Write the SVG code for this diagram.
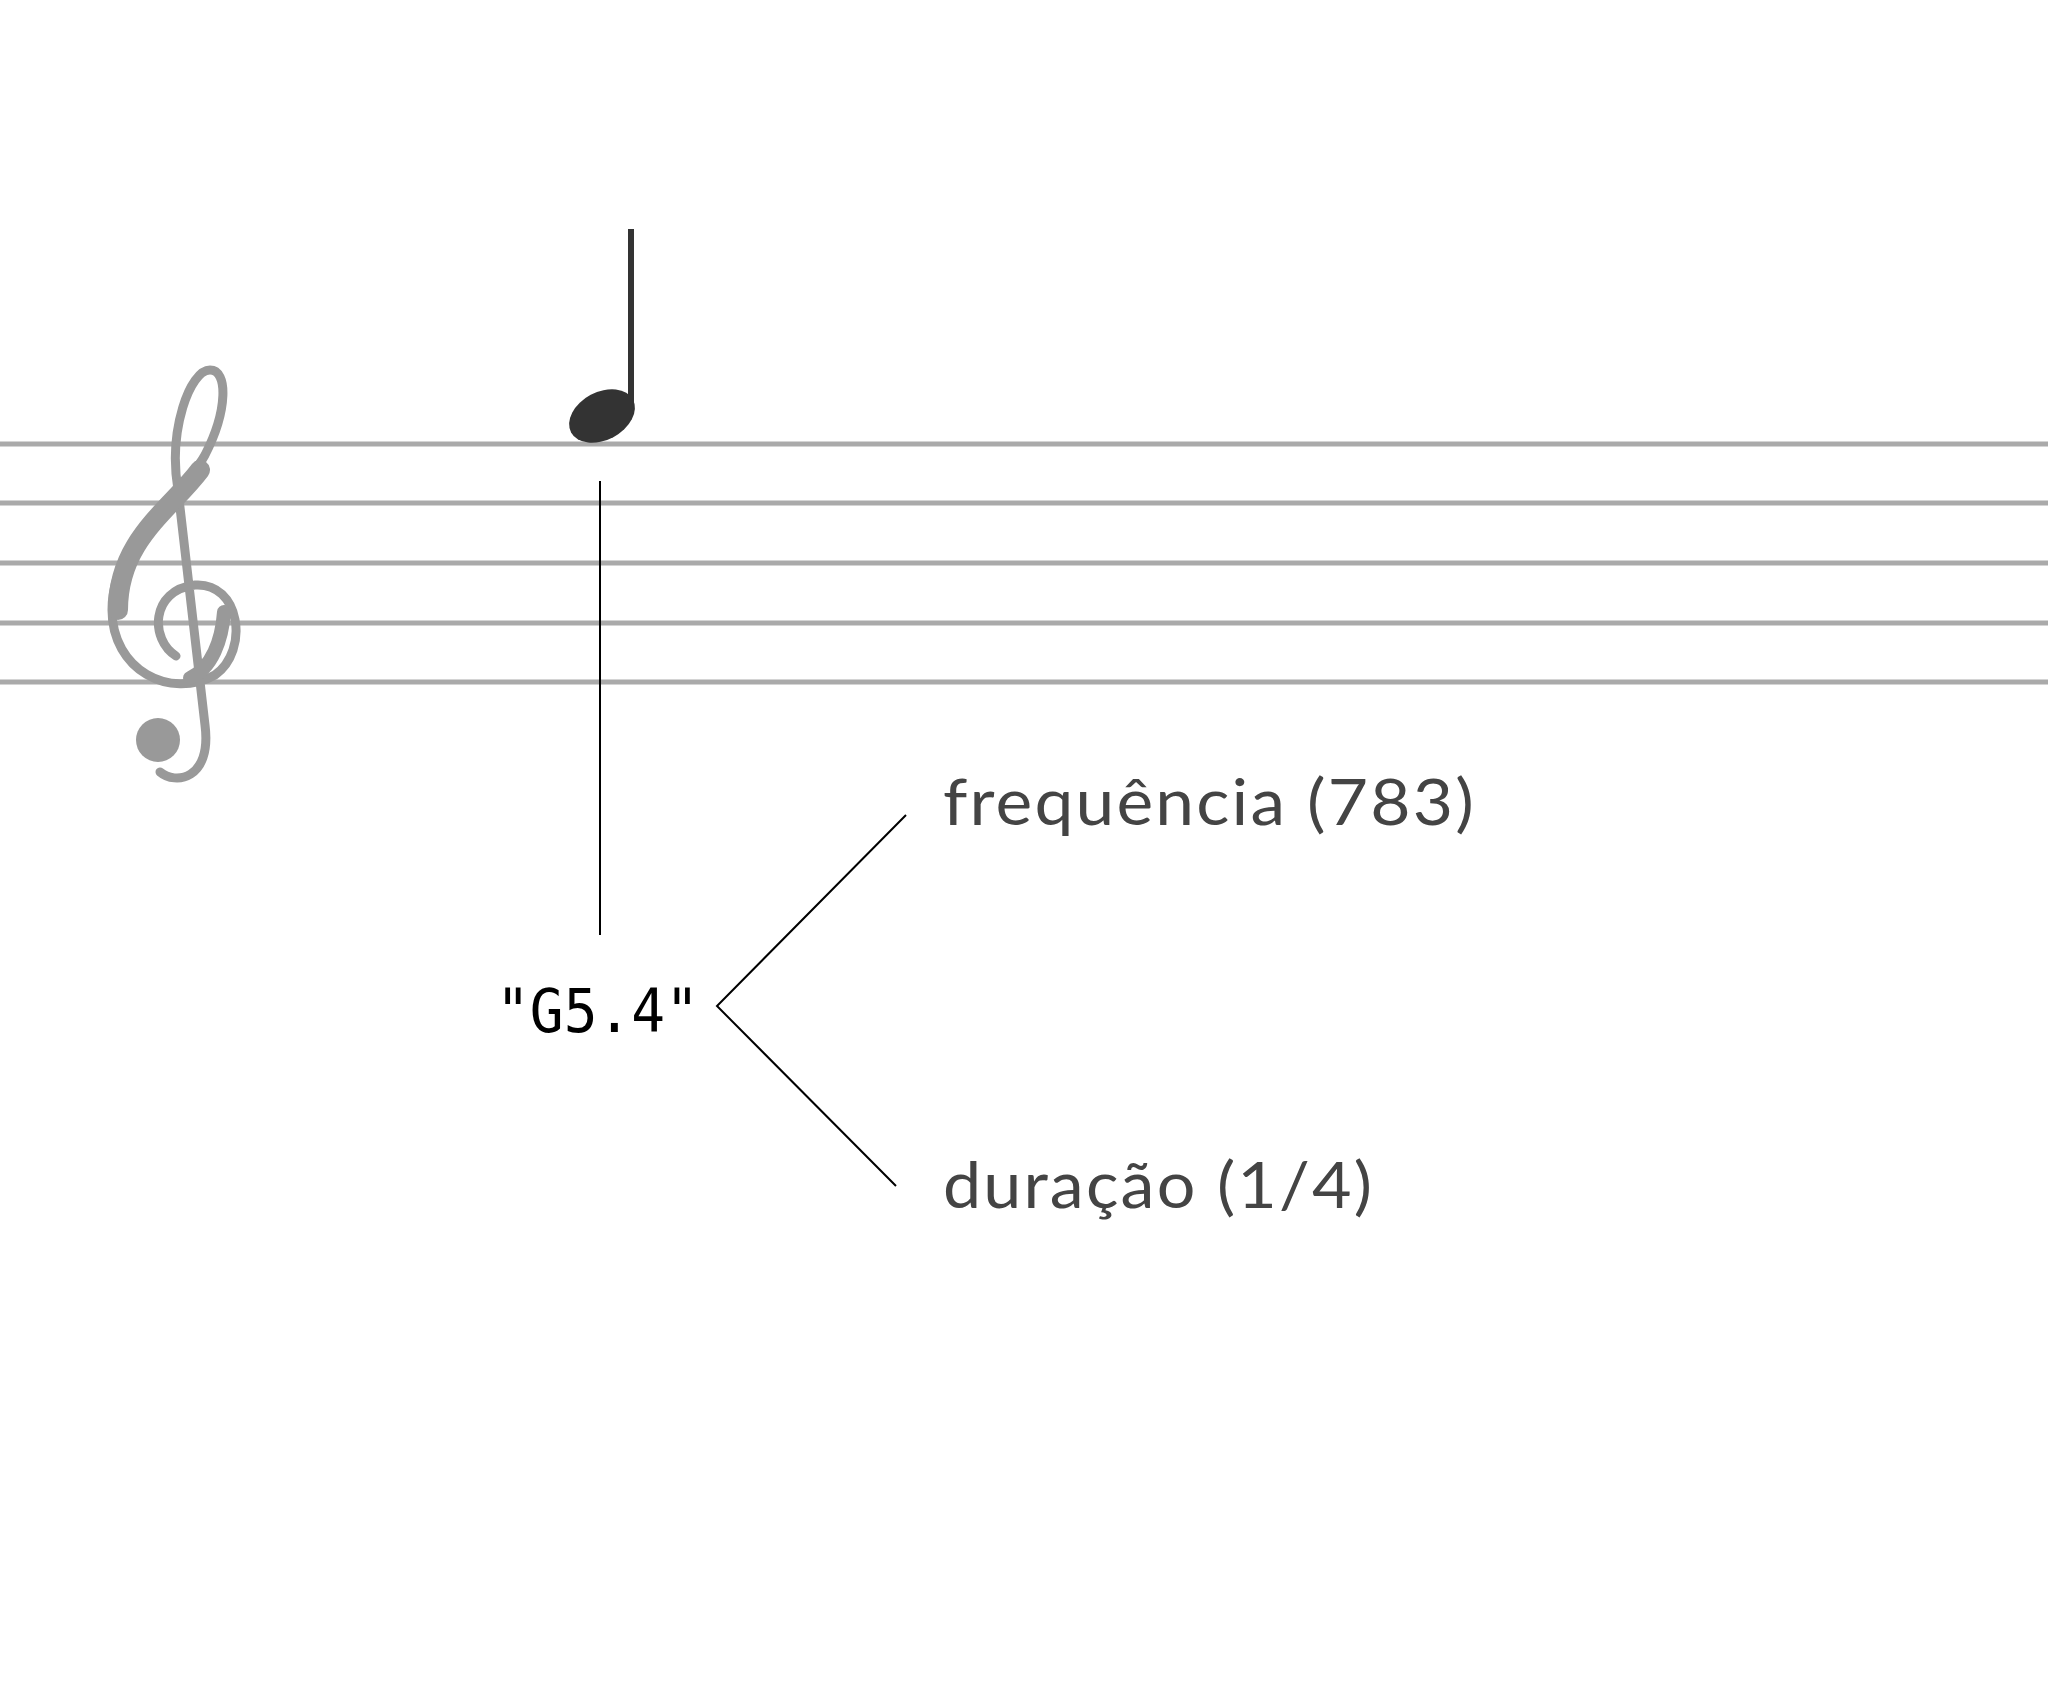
<svg xmlns="http://www.w3.org/2000/svg" width="2048" height="1692" viewBox="0 0 2048 1692">
<style>
.staff{stroke:#aaaaaa;stroke-width:5}
.conn{stroke:#000;stroke-width:2;fill:none}
.lbl{font-family:Lato,"Open Sans",sans-serif;font-size:64px;fill:#444;letter-spacing:2px}
</style>
<rect width="2048" height="1692" fill="#fff"/>
<g id="staff">
<line class="staff" x1="0" y1="444" x2="2048" y2="444"/>
<line class="staff" x1="0" y1="503" x2="2048" y2="503"/>
<line class="staff" x1="0" y1="563" x2="2048" y2="563"/>
<line class="staff" x1="0" y1="623" x2="2048" y2="623"/>
<line class="staff" x1="0" y1="682" x2="2048" y2="682"/>
</g>
<g id="clef" fill="none" stroke="#999" stroke-linecap="round">
<path stroke-width="9" d="M176 656 C150 640 150 590 195 585 C240 582 250 650 215 675 C170 700 112 670 112 610 C112 540 180 500 205 455 C228 410 228 370 210 370 C190 370 168 430 178 490 L205 725 C212 780 175 785 160 772"/>
<path stroke-width="20" d="M200 470 C170 510 118 540 118 610"/>
<path stroke-width="14" d="M224 612 C222 640 212 668 190 678"/>
<circle cx="158" cy="740" r="22" fill="#999" stroke="none"/>
</g>
<g id="note">
<ellipse cx="602" cy="416" rx="35" ry="24" transform="rotate(-28 602 416)" fill="#333"/>
<rect x="628" y="229" width="6" height="182" fill="#333"/>
</g>
<g id="label-g54">
<text x="496" y="1032" font-family="DejaVu Sans Mono,monospace" font-size="60" fill="#000" textLength="203" lengthAdjust="spacingAndGlyphs">"G5.4"</text>
</g>
<g id="label-freq"><text class="lbl" x="943" y="825" textLength="533" lengthAdjust="spacingAndGlyphs">frequência (783)</text></g>
<g id="label-dur"><text class="lbl" x="943" y="1208" textLength="431" lengthAdjust="spacingAndGlyphs">duração (1/4)</text></g>
<g id="connectors">
<line class="conn" x1="600" y1="481" x2="600" y2="935"/>
<polyline class="conn" points="906,815 717,1006 896,1186"/>
</g>
</svg>
